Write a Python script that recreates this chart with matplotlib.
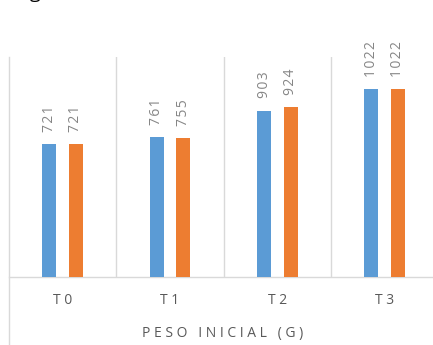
import matplotlib
matplotlib.use("Agg")
import matplotlib.pyplot as plt
import numpy as np
from matplotlib.lines import Line2D

# Initial weight (g) per treatment, two series
categories = ["T0", "T1", "T2", "T3"]
series_a = [721, 761, 903, 1022]
series_b = [721, 755, 924, 1022]
axis_title = "PESO INICIAL (G)"

BLUE = "#5b9bd5"
ORANGE = "#ed7d31"
GRID = "#d9d9d9"
LABEL = "#595959"
VALUE = "#868686"

plt.rcParams["font.family"] = ["Open Sans", "DejaVu Sans"]

W, H = 433, 345
fig = plt.figure(figsize=(W / 100, H / 100), dpi=100)

# plot area: left edge at x=9px, baseline at y=276.7px, top at y=56.5px
left_px, base_px, top_px, right_px = 9, 276.7, 56.5, 438.3
ax = fig.add_axes([left_px / W, (H - base_px) / H,
                   (right_px - left_px) / W, (base_px - top_px) / H])
ax.set_xlim(-0.5, 3.5)
ax.set_ylim(0, 1200)

x = np.arange(len(categories))
width = 0.13
offset = 0.124
bars_a = ax.bar(x - offset, series_a, width, color=BLUE, zorder=3)
bars_b = ax.bar(x + offset, series_b, width, color=ORANGE, zorder=3)


def spaced(s, sep=" "):
    return sep.join(s)


for bars, vals in ((bars_a, series_a), (bars_b, series_b)):
    for b, v in zip(bars, vals):
        ax.annotate(spaced(str(v), "\u200a"),
                    xy=(b.get_x() + b.get_width() / 2, v),
                    xytext=(0, 9), textcoords="offset points",
                    rotation=90, ha="center", va="bottom",
                    fontsize=10, color=VALUE)

# category dividers
for d in (0.5, 1.5, 2.5):
    ax.axvline(d, color=GRID, lw=1, zorder=1)

for s in ("top", "right", "left"):
    ax.spines[s].set_visible(False)
ax.spines["bottom"].set_color(GRID)
ax.spines["bottom"].set_linewidth(1)
ax.set_yticks([])
ax.set_xticks([])

# left axis line running down through the label area
fig.add_artist(Line2D([left_px / W, left_px / W], [0, (H - top_px) / H],
                      transform=fig.transFigure, color=GRID, lw=1))

# category labels
label_y = -(300 - base_px) / (base_px - top_px)
for xi, c in zip(x, categories):
    ax.text(xi, label_y, spaced(c), transform=ax.get_xaxis_transform(),
            ha="center", va="center", fontsize=10, color=LABEL)

fig.text(223 / W, (H - 333) / H, spaced(axis_title), ha="center",
         va="center", fontsize=10, color=LABEL)

# bottom of a caption glyph cut off by the top edge
fig.text(30 / W, 1 + 1.5 / H, "g", ha="left", va="baseline",
         fontsize=14, color="black")

fig.savefig("out.png", dpi=100)
